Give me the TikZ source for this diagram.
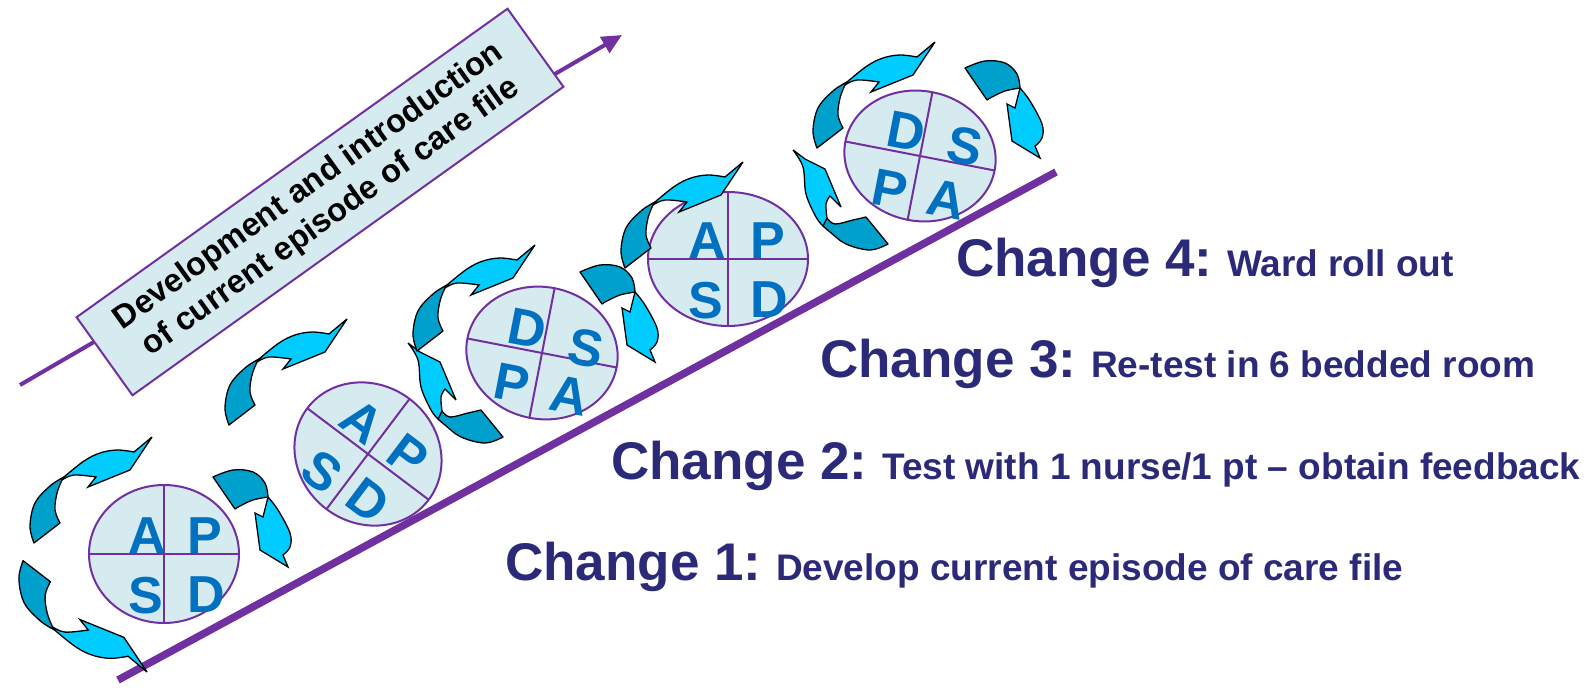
\documentclass[tikz,border=0pt]{standalone}
\usepackage{fontspec}
\setmainfont{Liberation Sans}
\usetikzlibrary{arrows.meta}
\frenchspacing
\definecolor{purp}{HTML}{7030A0}
\definecolor{boxfill}{HTML}{D6EBEF}
\definecolor{letblue}{HTML}{0070C0}
\definecolor{navy}{HTML}{2A2A78}
\definecolor{adark}{HTML}{00A0CC}
\definecolor{alight}{HTML}{00CCFF}
\tikzset{
  arrowdark/.style={fill=adark, draw=black, line width=1.3pt, line join=round},
  arrowlight/.style={fill=alight, draw=black, line width=1.3pt, line join=miter, miter limit=4},
  pdsa/.style={fill=boxfill, draw=purp, line width=2pt},
  quad/.style={draw=purp, line width=2pt},
  letter/.style={text=letblue, font=\fontsize{52}{52}\selectfont\bfseries, inner sep=0pt},
  change/.style={text=navy, font=\bfseries, anchor=base west, inner sep=0pt},
  arrU/.pic={
    \filldraw[arrowdark] plot[smooth,tension=0.6] coordinates {(-118,106) (-122,89) (-117,66) (-102,49) (-88,40)}
      -- plot[smooth,tension=0.6] coordinates {(-90,43) (-95,56) (-97,73) (-92,86)} -- cycle;
    \filldraw[arrowlight] plot[smooth,tension=0.6] coordinates {(-88,40) (-68,24) (-52,16) (-35,13) (-18,15)}
      -- (0,0) -- (-22,33) -- (-64,50) -- (-56,40)
      -- plot[smooth,tension=0.6] coordinates {(-56,40) (-78,38) (-90,43)} -- cycle;
  },
  arrR/.pic={
    \filldraw[arrowdark] plot[smooth,tension=0.6] coordinates {(-75,-90) (-55,-97) (-35,-95) (-23,-84) (-20,-70)}
      -- plot[smooth,tension=0.6] coordinates {(-20,-70) (-35,-67) (-48,-61) (-53,-58)} -- cycle;
    \filldraw[arrowlight] plot[smooth,tension=0.6] coordinates {(-20,-70) (-10,-57) (2,-34) (2,-20) (-5,-12)}
      -- (0,0) -- (-28,-17) -- (-33,-54) -- (-25,-50) -- cycle;
  },
  arrL/.pic={
    \filldraw[arrowdark] plot[smooth,tension=0.6] coordinates {(34,68) (42,74) (60,70) (73,67)}
      -- (95,94) -- plot[smooth,tension=0.6] coordinates {(95,94) (77,100) (53,94) (37,82) (30,76)} -- cycle;
    \filldraw[arrowlight] plot[smooth,tension=0.6] coordinates {(30,76) (23,67) (13,44) (10,17) (0,0)}
      -- (12,9) -- (32,19) -- (48,57) -- (37,46)
      -- plot[smooth,tension=0.6] coordinates {(37,46) (33,54) (34,68)} -- cycle;
  },
}
\begin{document}
\begin{tikzpicture}[x=1pt, y=-1pt]
\useasboundingbox (0,0) rectangle (1591,688);

% thin arrow behind the box
\coordinate (taA) at (20,385);
\coordinate (taB) at (622,35);
\draw[purp, line width=4pt, -{Triangle[length=20pt, width=18pt]}] (taA) -- (taB);

\node[draw=purp, line width=2pt, fill=boxfill, minimum width=530pt, minimum height=96pt,
      rotate=35.6, align=center, inner sep=0pt,
      font=\fontsize{32.5}{38}\selectfont\bfseries] (box) at (320,202)
      {Development and introduction\\of current episode of care file};

% main line
\coordinate (mlA) at (118,680);
\coordinate (mlB) at (1056,172);
\draw[purp, line width=7.5pt] (mlA) -- (mlB);

% circle 1
\begin{scope}[shift={(164,554)}]
  \path[pdsa] (0,0) ellipse [x radius=75, y radius=69];
  \draw[quad] (-75,0) -- (75,0) (0,-69) -- (0,69);
  \node[letter] (c1a) at (-17,-18) {A};
  \node[letter] (c1p) at (41,-18) {P};
  \node[letter] (c1s) at (-18,42) {S};
  \node[letter] (c1d) at (42,41) {D};
\end{scope}

% circle 2
\begin{scope}[shift={(368,454)}, rotate=-37, transform shape]
  \path[pdsa] (0,0) ellipse [x radius=76, y radius=69];
  \draw[quad] (-76,0) -- (76,0) (0,-69) -- (0,69);
  \node[letter] (c2a) at (-24,-22) {A};
  \node[letter] (c2p) at (33,-23) {P};
  \node[letter] (c2s) at (-26,42) {S};
  \node[letter] (c2d) at (28,37) {D};
\end{scope}

% circle 3
\begin{scope}[shift={(542,353)}, rotate=-11, transform shape]
  \path[pdsa] (0,0) ellipse [x radius=76, y radius=66];
  \draw[quad] (-76,0) -- (76,0) (0,-66) -- (0,66);
  \node[letter] (c3d) at (-19,-21) {D};
  \node[letter] (c3s) at (42,-13) {S};
  \node[letter] (c3p) at (-24,35) {P};
  \node[letter] (c3a) at (35,37) {A};
\end{scope}

% circle 4
\begin{scope}[shift={(728,259)}]
  \path[pdsa] (0,0) ellipse [x radius=80, y radius=67];
  \draw[quad] (-80,0) -- (80,0) (0,-67) -- (0,67);
  \node[letter] (c4a) at (-21,-18) {A};
  \node[letter] (c4p) at (40,-18) {P};
  \node[letter] (c4s) at (-22,42) {S};
  \node[letter] (c4d) at (41,41) {D};
\end{scope}

% circle 5
\begin{scope}[shift={(920,156)}, rotate=-11, transform shape]
  \path[pdsa] (0,0) ellipse [x radius=76, y radius=65];
  \draw[quad] (-76,0) -- (76,0) (0,-65) -- (0,65);
  \node[letter] (c5d) at (-18,-21) {D};
  \node[letter] (c5s) at (42,-18) {S};
  \node[letter] (c5p) at (-23,38) {P};
  \node[letter] (c5a) at (34,38) {A};
\end{scope}

% curved arrows
\pic at (152,437) {arrU};
\pic[xscale=1.05, yscale=-1.05] at (147,672) {arrU};
\pic at (288,567) {arrR};
\pic at (347,319) {arrU};
\pic at (408,343) {arrL};
\pic at (535,245) {arrU};
\pic at (655,362) {arrR};
\pic at (743,162) {arrU};
\pic at (793,150) {arrL};
\pic at (935,42) {arrU};
\pic at (1040,158) {arrR};

% texts
\node[change] (ch4) at (956,276) {\fontsize{53}{60}\selectfont Change 4: \fontsize{37}{40}\selectfont Ward roll out};
\node[change] (ch3) at (820,377) {\fontsize{53}{60}\selectfont Change 3: \fontsize{37}{40}\selectfont Re-test in 6 bedded room};
\node[change] (ch2) at (611,479) {\fontsize{53}{60}\selectfont Change 2: \fontsize{37}{40}\selectfont Test with 1 nurse/1 pt – obtain feedback};
\node[change] (ch1) at (505,580) {\fontsize{53}{60}\selectfont Change 1: \fontsize{37}{40}\selectfont Develop current episode of care file};
\end{tikzpicture}
\end{document}
